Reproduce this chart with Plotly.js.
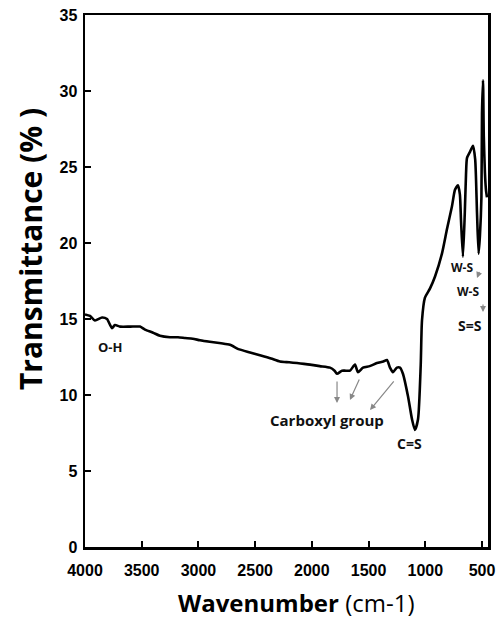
<!DOCTYPE html>
<html>
<head>
<meta charset="utf-8">
<script src="https://cdn.plot.ly/plotly-3.0.1.min.js"></script>
<style>html,body{margin:0;padding:0;background:#fff;}#chart{width:502px;height:621px;}</style>
</head>
<body>
<div id="chart"></div>
<script>
// Wavenumber (cm-1) and transmittance (%)
const wavenumber = [4000, 3956, 3912, 3850, 3806, 3762, 3736, 3691, 3600, 3515, 3471, 3400, 3339, 3251, 3180, 3118, 3050, 2986, 2900, 2800, 2722, 2640, 2545, 2450, 2360, 2281, 2200, 2131, 2070, 2016, 1930, 1840, 1800, 1778, 1734, 1700, 1664, 1620, 1593, 1549, 1490, 1426, 1370, 1338, 1311, 1285, 1250, 1223, 1197, 1152, 1117, 1091, 1064, 1040, 1029, 1003, 959, 914, 853, 809, 765, 738, 712, 695, 685, 668, 652, 641, 632, 606, 579, 560, 544, 530, 518, 505, 500, 491, 484, 474, 465, 456];
const transmittance = [15.3, 15.2, 14.9, 15.1, 15.0, 14.4, 14.6, 14.5, 14.5, 14.5, 14.3, 14.1, 13.9, 13.8, 13.8, 13.75, 13.7, 13.6, 13.5, 13.4, 13.3, 13.0, 12.8, 12.6, 12.4, 12.2, 12.15, 12.1, 12.05, 12.0, 11.9, 11.8, 11.6, 11.4, 11.6, 11.6, 11.6, 12.0, 11.5, 11.8, 11.9, 12.1, 12.2, 12.3, 11.8, 11.5, 11.8, 11.8, 11.4, 9.9, 8.4, 7.7, 8.4, 12.0, 14.9, 16.4, 17.0, 17.8, 19.3, 20.9, 22.4, 23.5, 23.8, 23.2, 21.5, 19.1, 21.9, 24.5, 25.6, 26.0, 26.4, 25.5, 22.0, 19.3, 20.5, 23.0, 28.5, 30.7, 27.0, 24.6, 23.5, 23.0];

const xTicks = [4000, 3500, 3000, 2500, 2000, 1500, 1000, 500];
const yTicks = [0, 5, 10, 15, 20, 25, 30, 35];

const sansBold = 'Open Sans, Noto Sans, sans-serif';
function label(text, x, y, size) {
  return {x: x, y: y, xref: 'x', yref: 'y', text: '<b>' + text + '</b>', showarrow: false,
          font: {family: sansBold, size: size, color: '#111'}};
}
function arrow(x, y, ax, ay) {
  return {x: x, y: y, ax: ax, ay: ay, xref: 'x', yref: 'y', axref: 'x', ayref: 'y', text: '',
          showarrow: true, arrowhead: 2, arrowsize: 1, arrowwidth: 1.2, arrowcolor: '#888'};
}

const trace = {
  x: wavenumber, y: transmittance, type: 'scatter', mode: 'lines',
  line: {color: '#000', width: 2.6, shape: 'spline', smoothing: 0.6},
  hoverinfo: 'skip'
};

const tickFont = {family: 'Liberation Sans, Arial, sans-serif', size: 16, color: '#000', weight: 700};

const layout = {
  width: 502, height: 621,
  margin: {l: 85, r: 14, t: 15, b: 74},
  paper_bgcolor: '#fff', plot_bgcolor: '#fff',
  showlegend: false,
  xaxis: {
    range: [4000, 447], autorange: false,
    tickvals: xTicks, ticktext: xTicks.map(String),
    ticks: 'inside', ticklen: 6, tickwidth: 2, tickcolor: '#000',
    ticklabelstandoff: 7,
    showline: true, linecolor: '#000', linewidth: 2.5, mirror: true,
    showgrid: false, zeroline: false,
    tickfont: tickFont
  },
  yaxis: {
    range: [0, 35], autorange: false,
    tickvals: yTicks, ticktext: yTicks.map(String),
    ticks: 'inside', ticklen: 6, tickwidth: 2, tickcolor: '#000',
    ticklabelstandoff: 2,
    showline: true, linecolor: '#000', linewidth: 2.5, mirror: true,
    showgrid: false, zeroline: false,
    tickfont: Object.assign({}, tickFont, {size: 16})
  },
  annotations: [
    {xref: 'paper', yref: 'paper', x: 0.5236, y: -0.1034, xanchor: 'center', yanchor: 'middle',
     text: '<b>Wavenumber</b> (cm-1)', showarrow: false,
     font: {family: sansBold, size: 24, color: '#000'}},
    {xref: 'paper', yref: 'paper', x: -0.1365, y: 0.56, xanchor: 'center', yanchor: 'middle',
     textangle: -90, text: '<b>Transmittance (% )</b>', showarrow: false,
     font: {family: sansBold, size: 30, color: '#000'}},
    label('O-H', 3780, 13.16, 13),
    label('Carboxyl group', 1867, 8.36, 15),
    label('C=S', 1135, 6.84, 14),
    label('W-S', 676, 18.36, 12),
    label('W-S', 624, 16.78, 12),
    label('S=S', 606, 14.6, 14),
    arrow(1778, 9.47, 1778, 10.99),
    arrow(1664, 9.67, 1576, 11.12),
    arrow(1487, 9.01, 1267, 10.99),
    arrow(544, 17.7, 518, 18.2),
    arrow(491, 15.46, 491, 16.05)
  ]
};

Plotly.newPlot('chart', [trace], layout, {displayModeBar: false, staticPlot: true});
</script>
</body>
</html>
